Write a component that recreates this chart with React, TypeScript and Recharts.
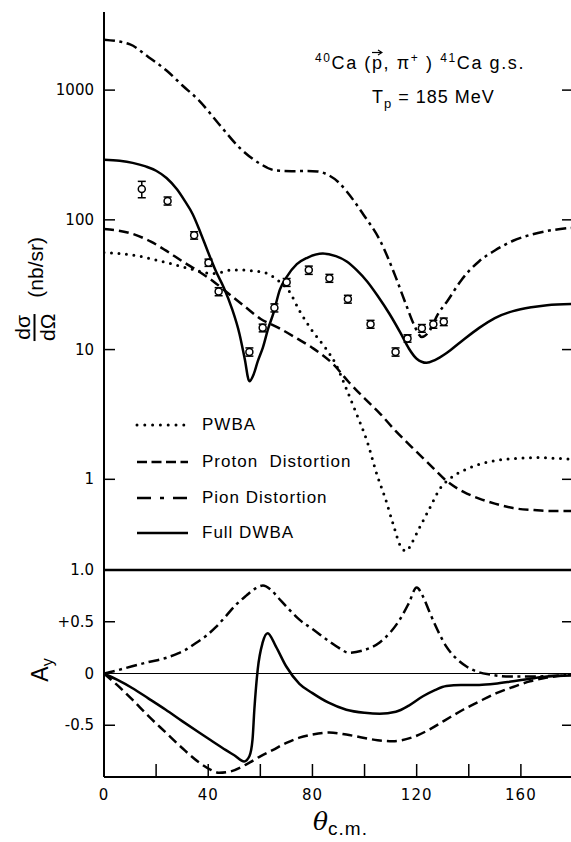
import React from 'react';
import { ComposedChart, Line, Scatter, ErrorBar, XAxis, YAxis, ReferenceLine } from 'recharts';

// ---- cross section panel (nb/sr) ----
const PWBA_THETA = [0, 6, 13, 20, 26, 32, 37, 41, 45, 49, 53, 57, 62, 67, 71, 75, 80, 85, 89, 93, 97, 101, 105, 108, 111, 114, 116, 118, 121, 125, 129, 133, 140, 149, 158, 166, 174, 180];
const PWBA_XS = [56, 55, 52.7, 49, 45.7, 42.5, 40, 38.5, 39.5, 41, 41, 40.5, 39, 33.8, 28.3, 20, 13.9, 10.3, 7.7, 5, 3.17, 1.96, 1.05, 0.71, 0.45, 0.3, 0.28, 0.32, 0.42, 0.6, 0.85, 1.02, 1.22, 1.38, 1.45, 1.47, 1.45, 1.43];

const PROTON_THETA = [0, 10, 18, 24, 30, 36, 42, 48, 54, 60, 67, 74, 80, 88, 94, 100, 106, 112, 118, 125, 131.5, 138, 144, 150, 157, 165, 172, 180];
const PROTON_XS = [85, 79, 68, 57.6, 48, 40.5, 33.5, 26.8, 21.5, 17.3, 14.7, 12.2, 10.3, 7.7, 5.6, 4.2, 3.2, 2.35, 1.78, 1.3, 0.97, 0.8, 0.71, 0.65, 0.6, 0.58, 0.57, 0.57];

const PION_THETA = [0, 10, 17, 24, 30, 36.5, 44, 52, 60, 66, 72, 78, 82, 86, 90, 93, 99.4, 106, 112, 116, 119, 122, 125, 128, 132, 137, 144, 150, 157, 164, 170, 180];
const PION_XS = [2450, 2250, 1800, 1415, 1090, 830, 551, 360, 270, 240, 237, 238, 236, 222, 195, 167, 111, 69, 36, 22, 15.5, 12.5, 14, 18.5, 24, 34, 48, 58, 69, 77, 82, 87];

const DWBA_THETA = [0, 6, 11, 16, 20, 24, 28, 31, 34, 37, 40, 43, 46, 49, 52, 54, 55.8, 57.5, 59, 61, 63, 65, 67.5, 70, 74, 78, 84, 89, 93, 97, 101, 105, 109.6, 114, 117, 120, 123.8, 127, 131.5, 137, 144, 150, 157, 164, 170, 180];
const DWBA_XS = [290, 285, 275, 258, 239, 210, 172, 140, 111, 80, 56, 40, 30, 21, 13.2, 8.5, 5.7, 6.5, 8.1, 10.4, 14.5, 19, 29, 36, 45.5, 51, 55, 52.5, 48, 41, 33.5, 26, 18.8, 13.2, 10.2, 8.5, 7.9, 8.3, 9.4, 11.5, 14.7, 17.5, 19.8, 21.2, 22, 22.5];

const DATA_THETA = [14.5, 24.4, 34.6, 40.1, 44, 55.8, 60.9, 65.4, 70.1, 78.6, 86.5, 93.6, 102.3, 111.9, 116.5, 122, 126.4, 130.4];
const DATA_XS = [173, 140, 76, 46.8, 28, 9.6, 14.7, 21, 33, 41, 35.5, 24.5, 15.7, 9.6, 12.2, 14.6, 15.7, 16.4];
const DATA_ERR = [25, 10, 5, 3, 2, 0.7, 1, 1.5, 2.3, 3, 2.5, 1.7, 1.1, 0.7, 0.8, 1, 1.1, 1.1];

// ---- analyzing power panel ----
const PION_AY_THETA = [0, 5, 10.8, 17, 23.7, 28, 31.4, 35, 39, 43, 46.8, 50.5, 54.5, 58, 61, 64, 67.3, 71, 75, 80, 86.5, 90, 94, 99, 105.8, 110, 113.5, 117, 120, 122.5, 125, 128, 131.4, 135, 139, 143, 148, 157, 165, 170, 180];
const PION_AY = [0, 0.03, 0.07, 0.11, 0.15, 0.19, 0.23, 0.29, 0.36, 0.45, 0.555, 0.66, 0.75, 0.82, 0.85, 0.81, 0.72, 0.62, 0.52, 0.43, 0.31, 0.25, 0.2, 0.22, 0.3, 0.4, 0.52, 0.68, 0.83, 0.74, 0.59, 0.42, 0.26, 0.15, 0.07, 0.02, -0.01, -0.03, -0.03, -0.025, -0.01];

const DWBA_AY_THETA = [0, 5, 10.8, 17, 23.7, 30, 36.5, 41, 46.8, 50, 53.8, 55.8, 57, 57.7, 59, 60.9, 62.8, 66, 69.9, 75, 80, 86, 93, 100, 105.8, 112, 117, 122.4, 127, 131.4, 137, 144, 150, 157, 165, 170, 180];
const DWBA_AY = [0, -0.06, -0.14, -0.24, -0.35, -0.46, -0.57, -0.645, -0.74, -0.79, -0.85, -0.8, -0.64, -0.35, 0.04, 0.3, 0.39, 0.26, 0.07, -0.1, -0.19, -0.28, -0.35, -0.38, -0.39, -0.37, -0.31, -0.22, -0.16, -0.12, -0.11, -0.11, -0.1, -0.075, -0.045, -0.03, -0.02];

const PROTON_AY_THETA = [0, 5, 10.8, 17, 23.7, 30, 36.5, 41, 44.2, 48, 54.5, 60, 64.7, 70, 75, 80, 86.5, 93, 99.4, 105, 110.9, 118, 125, 131, 137.8, 144, 150.6, 157, 163.5, 170, 180];
const PROTON_AY = [0, -0.11, -0.25, -0.41, -0.57, -0.72, -0.86, -0.93, -0.96, -0.95, -0.88, -0.8, -0.74, -0.67, -0.62, -0.59, -0.57, -0.59, -0.62, -0.645, -0.655, -0.62, -0.54, -0.45, -0.35, -0.27, -0.19, -0.13, -0.075, -0.04, -0.01];

const X_TICKS = [0, 20, 40, 60, 80, 100, 120, 140, 160];
const LOG_TICKS = [1, 10, 100, 1000];
const AY_TICKS = [1, 0.5, 0, -0.5];
const AY_LABELS = ['1.0', '+0.5', '0', '-0.5'];

const LEGEND_NAMES = ['PWBA', 'Proton  Distortion', 'Pion Distortion', 'Full DWBA'];

const zip = (xs: number[], ys: number[]) => xs.map((x, i) => ({ x, y: ys[i] }));

// layout (page pixels)
const LEFT = 104;
const RIGHT = 573;
const TOP = 12;
const MID = 570;
const BOT = 777;
const CHART_W = 580;
const LOW_TOP = MID - 20; // bottom chart svg starts a bit above so the "1.0" label is not cut
const SANS = '"Liberation Sans", Arial, sans-serif';
const TICK_FONT = { fontFamily: '"DejaVu Sans", sans-serif', fontSize: 15, fill: '#000' };

const DOTTED = { strokeDasharray: '0 7.5', strokeLinecap: 'round' as const, strokeWidth: 3 };
const DASHED = { strokeDasharray: '10 5', strokeWidth: 2.5 };
const DASHDOT = { strokeDasharray: '11 4.5 3 4.5', strokeWidth: 2.5 };
const SOLID = { strokeWidth: 2.5 };
const STYLES = [DOTTED, DASHED, DASHDOT, SOLID];
const LEGEND_DASH = ['0 7.8', '10 4.5', '14 9 4 9', ''];

const LogTick = (props: any) => {
  const { y, payload } = props;
  return (
    <g>
      <line x1={LEFT} x2={LEFT + 11} y1={y} y2={y} stroke="#000" strokeWidth={1.5} />
      <line x1={RIGHT - 11} x2={RIGHT} y1={y} y2={y} stroke="#000" strokeWidth={1.5} />
      <text x={LEFT - 10} y={y} textAnchor="end" dominantBaseline="central" {...TICK_FONT}>
        {payload.value}
      </text>
    </g>
  );
};

const TopTick = (props: any) => {
  const { x, payload } = props;
  if (payload.value <= 0) return <g />;
  return <line x1={x} x2={x} y1={TOP} y2={TOP + 11} stroke="#000" strokeWidth={1.5} />;
};

const AyTick = (props: any) => {
  const { y, payload } = props;
  const i = AY_TICKS.indexOf(payload.value);
  const inner = payload.value === 0.5 || payload.value === -0.5;
  return (
    <g>
      {inner && <line x1={LEFT} x2={LEFT + 11} y1={y} y2={y} stroke="#000" strokeWidth={1.5} />}
      {inner && <line x1={RIGHT - 11} x2={RIGHT} y1={y} y2={y} stroke="#000" strokeWidth={1.5} />}
      <text x={LEFT - 10} y={y} textAnchor="end" dominantBaseline="central" {...TICK_FONT}>
        {AY_LABELS[i]}
      </text>
    </g>
  );
};

const BottomTick = (props: any) => {
  const { x, payload } = props;
  const pb = BOT - LOW_TOP;
  return (
    <g>
      {payload.value > 0 && <line x1={x} x2={x} y1={pb} y2={pb - 13} stroke="#000" strokeWidth={1.5} />}
      {payload.value % 40 === 0 && (
        <text x={x} y={pb + 18} textAnchor="middle" dominantBaseline="central" letterSpacing={1} {...TICK_FONT}>
          {payload.value}
        </text>
      )}
    </g>
  );
};

const Circle = (props: any) => (
  <circle cx={props.cx} cy={props.cy} r={3.5} fill="#fff" stroke="#000" strokeWidth={1.5} />
);

const App: React.FC = () => {
  const topSeries = [zip(PWBA_THETA, PWBA_XS), zip(PROTON_THETA, PROTON_XS), zip(PION_THETA, PION_XS), zip(DWBA_THETA, DWBA_XS)];
  const aySeries = [zip(PROTON_AY_THETA, PROTON_AY), zip(PION_AY_THETA, PION_AY), zip(DWBA_AY_THETA, DWBA_AY)];
  const ayStyles = [DASHED, DASHDOT, SOLID];
  const points = DATA_THETA.map((x, i) => ({ x, y: DATA_XS[i], err: DATA_ERR[i] }));

  return (
    <div style={{ position: 'absolute', left: 0, top: 0, width: 571, height: 842, overflow: 'hidden', background: '#fff', fontFamily: SANS, color: '#000' }}>
      <div style={{ position: 'absolute', left: 0, top: 0 }}>
        <ComposedChart width={CHART_W} height={MID} margin={{ top: TOP, right: CHART_W - RIGHT, bottom: 0, left: 0 }}>
          <XAxis
            type="number"
            dataKey="x"
            orientation="top"
            height={0}
            domain={[0, 180]}
            ticks={X_TICKS}
            tick={<TopTick />}
            tickLine={false}
            axisLine={{ stroke: '#000', strokeWidth: 2 }}
            allowDataOverflow
          />
          <YAxis
            type="number"
            scale="log"
            domain={[0.2, 4000]}
            ticks={LOG_TICKS}
            width={LEFT}
            tick={<LogTick />}
            tickLine={false}
            axisLine={{ stroke: '#000', strokeWidth: 2 }}
            allowDataOverflow
          />
          {topSeries.map((d, i) => (
            <Line
              key={LEGEND_NAMES[i]}
              data={d}
              dataKey="y"
              type="monotone"
              stroke="#000"
              dot={false}
              isAnimationActive={false}
              {...STYLES[i]}
            />
          ))}
          <Scatter data={points} dataKey="y" shape={<Circle />} isAnimationActive={false}>
            <ErrorBar dataKey="err" direction="y" width={4} stroke="#000" strokeWidth={1.5} />
          </Scatter>
        </ComposedChart>
      </div>

      <div style={{ position: 'absolute', left: 0, top: LOW_TOP }}>
        <ComposedChart width={CHART_W} height={842 - LOW_TOP} margin={{ top: MID - LOW_TOP, right: CHART_W - RIGHT, bottom: 0, left: 0 }}>
          <XAxis
            type="number"
            dataKey="x"
            height={842 - BOT}
            domain={[0, 180]}
            ticks={X_TICKS}
            tick={<BottomTick />}
            tickLine={false}
            axisLine={{ stroke: '#000', strokeWidth: 2 }}
            allowDataOverflow
          />
          <YAxis
            type="number"
            domain={[-1, 1]}
            ticks={AY_TICKS}
            width={LEFT}
            tick={<AyTick />}
            tickLine={false}
            axisLine={{ stroke: '#000', strokeWidth: 2 }}
            allowDataOverflow
          />
          <ReferenceLine y={1} stroke="#000" strokeWidth={2.5} />
          <ReferenceLine y={0} stroke="#000" strokeWidth={1} />
          {aySeries.map((d, i) => (
            <Line
              key={i}
              data={d}
              dataKey="y"
              type="monotone"
              stroke="#000"
              dot={false}
              isAnimationActive={false}
              {...ayStyles[i]}
            />
          ))}
        </ComposedChart>
      </div>

      {/* legend */}
      {LEGEND_NAMES.map((name, i) => (
        <div key={name} style={{ position: 'absolute', left: 135, top: [425, 462, 498, 533][i] - 11, height: 22, display: 'flex', alignItems: 'center', fontSize: 17, letterSpacing: 1, whiteSpace: 'pre' }}>
          <svg width={54} height={10} style={{ marginRight: 13 }}>
            <line
              x1={2}
              x2={53}
              y1={5}
              y2={5}
              stroke="#000"
              strokeWidth={i === 0 ? 3 : 2.5}
              strokeDasharray={LEGEND_DASH[i] || undefined}
              strokeLinecap={i === 0 ? 'round' : 'butt'}
            />
          </svg>
          <span>{name}</span>
        </div>
      ))}

      {/* reaction annotation */}
      <div style={{ position: 'absolute', left: 315, top: 47, fontSize: 18, lineHeight: '22px', whiteSpace: 'nowrap', letterSpacing: 1.6 }}>
        <sup style={{ fontSize: 12 }}>40</sup>Ca (
        <span style={{ position: 'relative', display: 'inline-block' }}>
          p
          <svg width={11} height={7} style={{ position: 'absolute', left: 0, top: -3 }}>
            <line x1={0} y1={3.5} x2={9} y2={3.5} stroke="#000" strokeWidth={1.2} />
            <path d="M6,1 L10,3.5 L6,6" fill="none" stroke="#000" strokeWidth={1.2} />
          </svg>
        </span>
        , π<sup style={{ fontSize: 12 }}>+</sup> ) <sup style={{ fontSize: 12 }}>41</sup>Ca g.s.
      </div>
      <div style={{ position: 'absolute', left: 372, top: 86, fontSize: 18, lineHeight: '22px', whiteSpace: 'nowrap', letterSpacing: 1 }}>
        T<sub style={{ fontSize: 13 }}>p</sub> = 185 MeV
      </div>

      {/* y titles */}
      <div style={{ position: 'absolute', left: 35, top: 289, transform: 'translate(-50%, -50%) rotate(-90deg)', display: 'flex', alignItems: 'center', whiteSpace: 'nowrap', fontSize: 21 }}>
        <span style={{ display: 'inline-flex', flexDirection: 'column', alignItems: 'center', lineHeight: '22px' }}>
          <span>dσ</span>
          <span style={{ borderTop: '2px solid #000', paddingTop: 1 }}>dΩ</span>
        </span>
        <span style={{ marginLeft: 16, fontSize: 21 }}>(nb/sr)</span>
      </div>
      <div style={{ position: 'absolute', left: 42, top: 670, transform: 'translate(-50%, -50%) rotate(-90deg)', whiteSpace: 'nowrap', fontSize: 23 }}>
        A<sub style={{ fontSize: 16 }}>y</sub>
      </div>

      {/* x title */}
      <div style={{ position: 'absolute', left: 313, top: 807, whiteSpace: 'nowrap' }}>
        <span style={{ fontFamily: '"DejaVu Serif", serif', fontStyle: 'italic', fontSize: 25 }}>θ</span>
        <span style={{ fontSize: 19, letterSpacing: 1, position: 'relative', top: 5 }}>c.m.</span>
      </div>
    </div>
  );
};

export default App;
